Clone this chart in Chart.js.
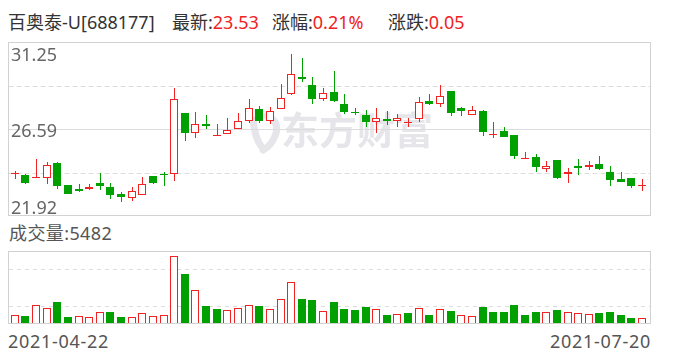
<!DOCTYPE html>
<html>
<head>
<meta charset="utf-8">
<script src="https://cdn.jsdelivr.net/npm/chart.js@4.4.1/dist/chart.umd.min.js"></script>
<style>
    body { margin: 0; width: 688px; height: 360px; background: #fff; position: relative; overflow: hidden;
           font-family: "Noto Sans", "Noto Sans CJK SC", sans-serif; }
    .txt { position: absolute; white-space: nowrap; font-size: 18px; line-height: 18px; }
    .red { color: #f02222; }
    .wide { letter-spacing: 0.7px; }
    #kWrap { position: absolute; left: 8px; top: 42px; width: 643px; height: 174px; }
    #vWrap { position: absolute; left: 8px; top: 251px; width: 643px; height: 73px; }
</style>
</head>
<body>
<div class="txt" id="hName" style="left:8px;top:13px;color:#333"></div>
<div class="txt" id="hLast" style="left:172px;top:13px;color:#333">最新:<span class="red"></span></div>
<div class="txt" id="hPct" style="left:272px;top:13px;color:#333">涨幅:<span class="red"></span></div>
<div class="txt" id="hChg" style="left:388px;top:13px;color:#333">涨跌:<span class="red"></span></div>
<div class="txt" id="hVol" style="left:9px;top:224px;color:#555;letter-spacing:0.4px"></div>
<div class="txt wide" id="dFirst" style="left:8px;top:332px;color:#555"></div>
<div class="txt wide" id="dLast" style="right:37px;top:332px;color:#555;text-align:right"></div>
<div id="kWrap"><canvas id="kChart" width="643" height="174"></canvas></div>
<div id="vWrap"><canvas id="vChart" width="643" height="73"></canvas></div>
<script>
// Data
const dates = [
    '2021-04-22','2021-04-23','2021-04-26','2021-04-27','2021-04-28','2021-04-29','2021-04-30',
    '2021-05-06','2021-05-07','2021-05-10','2021-05-11','2021-05-12','2021-05-13','2021-05-14',
    '2021-05-17','2021-05-18','2021-05-19','2021-05-20','2021-05-21','2021-05-24','2021-05-25',
    '2021-05-26','2021-05-27','2021-05-28','2021-05-31','2021-06-01','2021-06-02','2021-06-03',
    '2021-06-04','2021-06-07','2021-06-08','2021-06-09','2021-06-10','2021-06-11','2021-06-15',
    '2021-06-16','2021-06-17','2021-06-18','2021-06-21','2021-06-22','2021-06-23','2021-06-24',
    '2021-06-25','2021-06-28','2021-06-29','2021-06-30','2021-07-01','2021-07-02','2021-07-05',
    '2021-07-06','2021-07-07','2021-07-08','2021-07-09','2021-07-12','2021-07-13','2021-07-14',
    '2021-07-15','2021-07-16','2021-07-19','2021-07-20'
];
const opens = [
    24.15, 24.13, 23.97, 23.94, 24.78, 23.59, 23.36, 23.36, 23.67, 23.50,
    23.08, 22.89, 23.07, 24.04, 24.14, 24.18, 27.46, 26.39, 26.87, 26.20,
    26.32, 26.58, 27.01, 27.67, 27.01, 27.67, 28.46, 29.40, 28.92, 28.19,
    28.58, 27.94, 27.51, 27.35, 26.94, 27.14, 27.04, 26.93, 27.10, 28.10,
    27.95, 28.63, 27.72, 27.33, 27.56, 26.26, 26.49, 26.28, 24.96, 25.10,
    24.43, 24.94, 24.16, 24.62, 24.57, 24.73, 24.30, 23.88, 23.94, 23.52
];
const highs = [
    24.34, 24.18, 24.96, 24.84, 24.80, 23.60, 23.65, 23.65, 24.25, 23.70,
    23.22, 23.46, 23.99, 24.04, 24.29, 28.81, 27.46, 27.51, 27.35, 26.87,
    27.19, 27.46, 28.22, 27.83, 27.78, 28.99, 30.61, 30.41, 29.40, 28.81,
    29.70, 28.47, 27.72, 27.62, 27.72, 27.56, 27.40, 27.19, 28.31, 28.47,
    28.92, 28.63, 27.78, 27.83, 27.62, 26.98, 26.71, 26.28, 25.37, 25.23,
    24.89, 24.94, 24.52, 25.00, 24.89, 25.16, 24.62, 24.30, 23.94, 23.88
];
const lows = [
    23.89, 23.62, 23.96, 23.62, 23.37, 23.08, 23.19, 23.29, 23.29, 22.82,
    22.66, 22.73, 23.05, 23.61, 23.55, 23.81, 25.96, 26.08, 26.58, 26.20,
    26.32, 26.58, 26.88, 26.88, 26.83, 27.67, 28.40, 29.13, 27.95, 28.06,
    28.04, 27.40, 27.35, 26.67, 26.35, 26.81, 26.67, 26.71, 26.94, 27.88,
    27.79, 27.26, 27.26, 27.33, 26.19, 26.08, 26.14, 24.96, 24.96, 24.30,
    24.30, 23.89, 23.68, 24.10, 24.37, 24.41, 23.52, 23.73, 23.41, 23.25
];
const closes = [
    24.16, 23.68, 23.98, 24.66, 23.53, 23.09, 23.27, 23.46, 23.52, 23.06,
    22.94, 23.27, 23.65, 23.68, 24.10, 28.19, 26.35, 26.85, 26.75, 26.21,
    26.55, 27.01, 27.72, 27.04, 27.55, 28.24, 29.52, 29.26, 28.19, 28.51,
    28.10, 27.51, 27.44, 26.94, 27.17, 27.03, 27.17, 26.94, 28.03, 27.94,
    28.36, 27.42, 27.53, 27.60, 26.40, 26.27, 26.14, 25.12, 25.05, 24.53,
    24.61, 23.94, 24.30, 24.48, 24.68, 24.46, 23.84, 23.73, 23.52, 23.53
];
const volumes = [
    8450, 7780, 18170, 15260, 21380, 6800, 7480, 6510, 11370, 11660,
    6800, 6510, 10400, 7480, 8450, 64830, 47630, 32760, 17500, 14580,
    13320, 15260, 18170, 17500, 14290, 24010, 40530, 24300, 23330, 12340,
    21380, 14580, 13610, 16520, 14290, 8750, 9430, 10690, 15550, 8750,
    14290, 12640, 8450, 7480, 16520, 11660, 11660, 18470, 8750, 11660,
    11660, 13610, 11660, 10690, 9720, 10690, 11660, 8750, 5830, 5482
];
const priceTicks = ['31.25', '26.59', '21.92'];
const priceMin = 21.92, priceMax = 31.25;
const volMax = 70000;
const stockName = '百奥泰-U[688177]';
const lastPrice = '23.53', changePct = '0.21%', changeAmt = '0.05';

const RED = '#f02222';
const GREEN = '#00a000';
const GRID = '#dcdcdc';
const FRAME = '#d2d2d2';

// header texts
document.getElementById('hName').textContent = stockName;
document.querySelector('#hLast span').textContent = lastPrice;
document.querySelector('#hPct span').textContent = changePct;
document.querySelector('#hChg span').textContent = changeAmt;
document.getElementById('hVol').textContent = '成交量:' + volumes[volumes.length - 1];
document.getElementById('dFirst').textContent = dates[0];
document.getElementById('dLast').textContent = dates[dates.length - 1];

// candle colours: close >= open is red (hollow), else green
const isUp = dates.map((d, i) => closes[i] >= opens[i]);
const candleColors = isUp.map(u => u ? RED : GREEN);
// volume colours follow close vs previous close
const volUp = dates.map((d, i) => i === 0 ? isUp[0] : closes[i] >= closes[i - 1]);

const upBodies = dates.map((d, i) => isUp[i] ? [opens[i], closes[i]] : null);
const downBodies = dates.map((d, i) => isUp[i] ? null : [closes[i], opens[i]]);
const wicks = dates.map((d, i) => [lows[i], highs[i]]);

// snap bars to whole pixels so outlines stay crisp
const pixelSnap = {
    id: 'pixelSnap',
    afterDatasetsUpdate(chart) {
        chart.data.datasets.forEach((ds, di) => {
            chart.getDatasetMeta(di).data.forEach(el => {
                if (!isFinite(el.x)) return;
                const thin = el.width <= 1.5;
                el.x = Math.round(el.x) + (thin ? 0.5 : 0);
                el.y = Math.round(el.y);
                el.base = Math.round(el.base);
                if (Math.abs(el.base - el.y) < 1) el.y = el.base - 1;
            });
        });
    }
};

// frame, dashed quarter lines, solid middle line
const panelFrame = {
    id: 'panelFrame',
    beforeDatasetsDraw(chart, args, opts) {
        const { ctx, width, scales: { y } } = chart;
        ctx.save();
        if (opts.watermark) drawWatermark(ctx);
        const lo = y.min, hi = y.max;
        ctx.lineWidth = 1;
        ctx.strokeStyle = GRID;
        ctx.setLineDash([4, 4]);
        [lo + (hi - lo) * 0.25, lo + (hi - lo) * 0.75].forEach(v => {
            const py = Math.round(y.getPixelForValue(v)) + 0.5;
            ctx.beginPath(); ctx.moveTo(1, py); ctx.lineTo(width - 1, py); ctx.stroke();
        });
        ctx.setLineDash([]);
        if (opts.midSolid) {
            const py = Math.round(y.getPixelForValue((lo + hi) / 2)) + 0.5;
            ctx.beginPath(); ctx.moveTo(1, py); ctx.lineTo(width - 1, py); ctx.stroke();
        }
        ctx.restore();
    },
    afterDatasetsDraw(chart, args, opts) {
        const { ctx, width, height } = chart;
        ctx.save();
        ctx.strokeStyle = FRAME;
        ctx.lineWidth = 1;
        ctx.strokeRect(0.5, 0.5, width - 1, height - 1);
        if (opts.labels) {
            ctx.fillStyle = '#666';
            ctx.font = '18px "Noto Sans", sans-serif';
            ctx.textBaseline = 'alphabetic';
            ctx.fillText(opts.labels[0], 3, 19);
            ctx.fillText(opts.labels[1], 3, 94.5);
            ctx.fillText(opts.labels[2], 3, 172);
        }
        ctx.restore();
    }
};

function drawWatermark(ctx) {
    ctx.fillStyle = '#e5e5ea';
    ctx.strokeStyle = '#e5e5ea';
    ctx.font = 'bold 38px "Noto Sans CJK SC", sans-serif';
    ctx.textBaseline = 'middle';
    ctx.fillText('东方财富', 273, 88);
    // rough logo swoosh
    ctx.lineWidth = 7;
    ctx.lineCap = 'round';
    ctx.beginPath(); ctx.moveTo(245, 78); ctx.quadraticCurveTo(247, 96, 253, 104); ctx.stroke();
    ctx.beginPath(); ctx.moveTo(259, 74); ctx.quadraticCurveTo(273, 80, 267, 94);
    ctx.quadraticCurveTo(263, 104, 255, 108); ctx.stroke();
}

const baseBar = { grouped: false, borderSkipped: false, inflateAmount: 0 };

new Chart(document.getElementById('kChart'), {
    type: 'bar',
    data: {
        labels: dates,
        datasets: [
            { ...baseBar, data: upBodies, backgroundColor: '#fff', borderColor: RED, borderWidth: 1,
              barThickness: 8, minBarLength: 1 },
            { ...baseBar, data: downBodies, backgroundColor: GREEN, borderWidth: 0,
              barThickness: 8, minBarLength: 1 },
            { ...baseBar, data: wicks, backgroundColor: candleColors, borderWidth: 0, barThickness: 1 }
        ]
    },
    options: {
        responsive: false,
        animation: false,
        devicePixelRatio: 1,
        layout: { padding: { left: 1.4, right: 3.7, top: 0, bottom: 0 } },
        scales: {
            x: { display: false, offset: true },
            y: { display: false, min: priceMin, max: priceMax }
        },
        plugins: {
            legend: { display: false },
            tooltip: { enabled: false },
            panelFrame: { watermark: true, midSolid: true, labels: priceTicks }
        }
    },
    plugins: [pixelSnap, panelFrame]
});

new Chart(document.getElementById('vChart'), {
    type: 'bar',
    data: {
        labels: dates,
        datasets: [{
            ...baseBar,
            data: volumes,
            backgroundColor: volUp.map(u => u ? '#fff' : GREEN),
            borderColor: volUp.map(u => u ? RED : GREEN),
            borderWidth: volUp.map(u => u ? 1 : 0),
            barThickness: 8
        }]
    },
    options: {
        responsive: false,
        animation: false,
        devicePixelRatio: 1,
        layout: { padding: { left: 1.4, right: 3.7, top: 0, bottom: 0 } },
        scales: {
            x: { display: false, offset: true },
            y: { display: false, min: 0, max: volMax }
        },
        plugins: {
            legend: { display: false },
            tooltip: { enabled: false },
            panelFrame: { watermark: false, midSolid: false }
        }
    },
    plugins: [pixelSnap, panelFrame]
});
</script>
</body>
</html>
